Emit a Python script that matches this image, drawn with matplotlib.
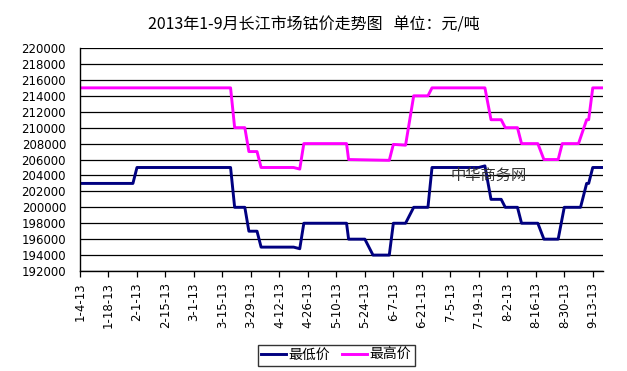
import matplotlib
matplotlib.use("Agg")
import matplotlib.pyplot as plt
import matplotlib.dates as mdates
from matplotlib.ticker import FuncFormatter, MultipleLocator
import pandas as pd

plt.rcParams['font.family'] = ['Noto Sans CJK SC', 'DejaVu Sans']

# 最低价 (breakpoints)
low_dates = ['2013-01-04', '2013-01-30', '2013-02-01', '2013-03-19', '2013-03-21',
             '2013-03-26', '2013-03-28', '2013-04-01', '2013-04-03', '2013-04-19',
             '2013-04-22', '2013-04-24', '2013-05-15', '2013-05-16', '2013-05-24',
             '2013-05-28', '2013-06-05', '2013-06-07', '2013-06-13', '2013-06-17',
             '2013-06-24', '2013-06-26', '2013-07-19', '2013-07-22', '2013-07-25',
             '2013-07-30', '2013-08-01', '2013-08-07', '2013-08-09', '2013-08-17',
             '2013-08-20', '2013-08-27', '2013-08-30', '2013-09-07', '2013-09-10',
             '2013-09-11', '2013-09-13', '2013-09-18']
low_values = [203000, 203000, 205000, 205000, 200000,
              200000, 197000, 197000, 195000, 195000,
              194800, 198000, 198000, 196000, 196000,
              194000, 194000, 198000, 198000, 200000,
              200000, 205000, 205000, 205200, 201000,
              201000, 200000, 200000, 198000, 198000,
              196000, 196000, 200000, 200000, 203000,
              203000, 205000, 205000]

# 最高价
high_dates = ['2013-01-04', '2013-03-19', '2013-03-21', '2013-03-26', '2013-03-28',
              '2013-04-01', '2013-04-03', '2013-04-19', '2013-04-22', '2013-04-24',
              '2013-05-15', '2013-05-16', '2013-06-05', '2013-06-07', '2013-06-13',
              '2013-06-17', '2013-06-24', '2013-06-26', '2013-07-22', '2013-07-25',
              '2013-07-30', '2013-08-01', '2013-08-07', '2013-08-09', '2013-08-17',
              '2013-08-20', '2013-08-27', '2013-08-29', '2013-09-06', '2013-09-10',
              '2013-09-11', '2013-09-13', '2013-09-18']
high_values = [215000, 215000, 210000, 210000, 207000,
               207000, 205000, 205000, 204800, 208000,
               208000, 206000, 205900, 207900, 207800,
               214000, 214000, 215000, 215000, 211000,
               211000, 210000, 210000, 208000, 208000,
               206000, 206000, 208000, 208000, 211000,
               211000, 215000, 215000]

title = '2013年1-9月长江市场钴价走势图   单位：元/吨'
labels = ['最低价', '最高价']

fig = plt.figure(figsize=(6.27, 3.71), dpi=100)
ax = fig.add_axes([0.1276, 0.2695, 0.834, 0.601])

ax.plot(pd.to_datetime(low_dates), low_values, color='#000080', lw=2.1, label=labels[0])
ax.plot(pd.to_datetime(high_dates), high_values, color='#FF00FF', lw=2.1, label=labels[1])

ax.set_ylim(192000, 220000)
ax.yaxis.set_major_locator(MultipleLocator(2000))
ax.grid(axis='y', color='black', lw=0.9)
ax.set_axisbelow(True)

start = pd.Timestamp('2013-01-04')
ax.set_xlim(start, pd.Timestamp('2013-09-18'))
ticks = pd.date_range(start, '2013-09-13', freq='14D')
ax.set_xticks(ticks)
ax.xaxis.set_major_formatter(FuncFormatter(
    lambda v, p: (lambda d: f"{d.month}-{d.day}-{d.strftime('%y')}")(mdates.num2date(v))))

for s in ['top', 'right']:
    ax.spines[s].set_visible(False)
ax.spines['left'].set_linewidth(1.0)
ax.spines['bottom'].set_linewidth(1.0)

ax.tick_params(axis='y', length=0, pad=10, labelsize=8.5)
ax.tick_params(axis='x', length=4, width=0.9, direction='out', pad=4, labelsize=8.5,
               labelrotation=90)
for t in ax.get_yticklabels() + ax.get_xticklabels():
    t.set_family('DejaVu Sans')

fig.text(0.5, 0.932, title, ha='center', va='center', fontsize=11.5)
fig.text(0.78, 0.526, '中华商务网', ha='center', va='center',
         fontsize=11, color='#333333')

leg = fig.legend(loc='center', bbox_to_anchor=(0.536, 0.043), ncol=2, fontsize=10,
                 frameon=True, fancybox=False, edgecolor='black', handlelength=1.8,
                 handletextpad=0.2, columnspacing=0.8, borderpad=0.25)
leg.get_frame().set_linewidth(1.0)

fig.savefig('out.png', dpi=100)
